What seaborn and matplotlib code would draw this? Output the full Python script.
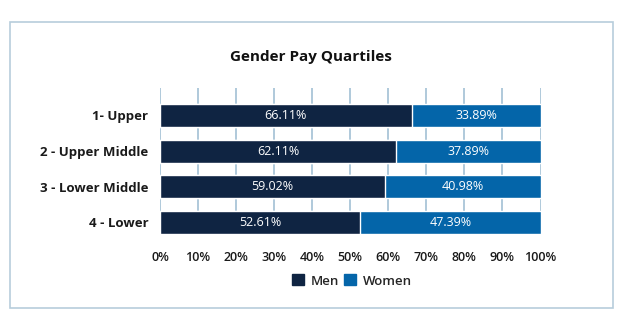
import numpy as np
import pandas as pd
import matplotlib.pyplot as plt
import seaborn as sns
from matplotlib.patches import Patch, Rectangle

# Data
quartiles = ["1- Upper", "2 - Upper Middle", "3 - Lower Middle", "4 - Lower"]
men = [66.11, 62.11, 59.02, 52.61]
women = [33.89, 37.89, 40.98, 47.39]
x_ticks = [0, 10, 20, 30, 40, 50, 60, 70, 80, 90, 100]

men_color = "#0f2442"
women_color = "#0465a9"
grid_color = "#a9c5d8"

df = pd.DataFrame({"quartile": quartiles, "Men": men, "Women": women})
df["total"] = df["Men"] + df["Women"]

sns.set_theme(style="white")
plt.rcParams["font.family"] = ["Open Sans", "DejaVu Sans"]

fig = plt.figure(figsize=(6.23, 3.29), dpi=100)
ax = fig.add_axes([160 / 623, 1 - 234 / 329, 380.5 / 623, 146 / 329])

# gridlines first so bars sit on top
for t in x_ticks:
    ax.axvline(t, color=grid_color, lw=1.3, zorder=0)

# stacked: women drawn as full bar, men on top
sns.barplot(data=df, x="total", y="quartile", color=women_color, width=0.65,
            saturation=1, ax=ax, zorder=2)
sns.barplot(data=df, x="Men", y="quartile", color=men_color, width=0.65,
            saturation=1, ax=ax, zorder=3)

for i, (m, w) in enumerate(zip(men, women)):
    ax.text(m / 2, i, f"{m:.2f}%", color="white", ha="center", va="center",
            fontsize=9, zorder=4)
    ax.text(m + w / 2, i, f"{w:.2f}%", color="white", ha="center", va="center",
            fontsize=9, zorder=4)

ax.set_xlim(0, 100)
ax.set_ylim(3.325, -0.77)
ax.set_xticks(x_ticks)
ax.set_xticklabels([f"{t}%" for t in x_ticks], fontsize=9, fontweight="semibold",
                   color="#1a1a1a")
ax.set_yticks(range(len(quartiles)))
ax.set_yticklabels(quartiles, fontsize=9.5, fontweight="bold", color="#1a1a1a")
ax.tick_params(axis="x", length=0, pad=12)
ax.tick_params(axis="y", length=0, pad=8.5)
ax.set_xlabel("")
ax.set_ylabel("")
sns.despine(ax=ax, left=True, bottom=True)

fig.text(311 / 623, 1 - 57 / 329, "Gender Pay Quartiles", ha="center", va="center",
         fontsize=11, fontweight="bold", color="#111111")

handles = [Patch(color=men_color, label="Men"), Patch(color=women_color, label="Women")]
fig.legend(handles=handles, loc="center", bbox_to_anchor=(352 / 623, 1 - 281 / 329),
           ncol=2, frameon=False, handlelength=0.9, handleheight=0.9,
           handletextpad=0.5, columnspacing=0.4,
           prop={"size": 9.5, "weight": "semibold"})

fig.patches.append(Rectangle((10 / 623, 1 - 308 / 329), 603 / 623, 286 / 329,
                             transform=fig.transFigure, fill=False,
                             edgecolor="#b7cddc", lw=1.2))

fig.savefig("out.png", dpi=100)
